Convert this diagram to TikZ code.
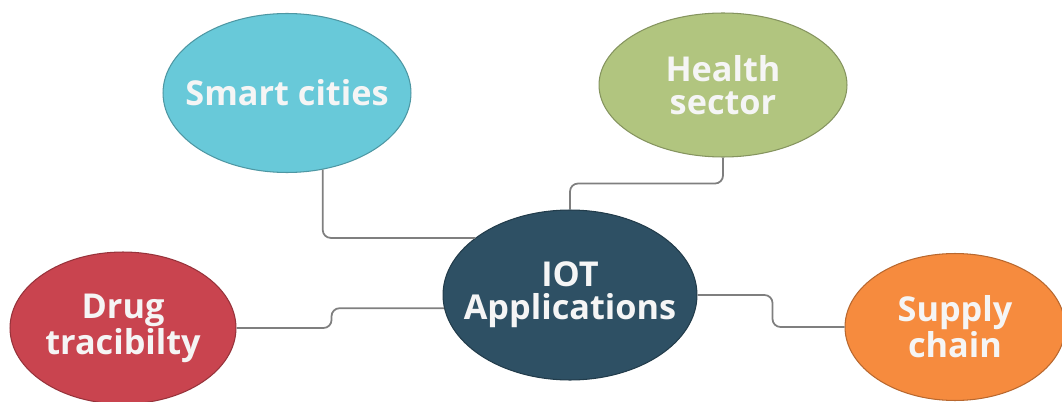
\documentclass[tikz,border=0pt]{standalone}
\usepackage{fontspec}
\setmainfont{Open Sans}
\usetikzlibrary{positioning,shapes.geometric}

\definecolor{cityblue}{HTML}{68C9D9}
\definecolor{healthgreen}{HTML}{B1C57F}
\definecolor{drugred}{HTML}{C9444F}
\definecolor{iotblue}{HTML}{2E5064}
\definecolor{supplyorange}{HTML}{F68B3E}
\definecolor{linkgray}{HTML}{7F7F7F}

\begin{document}
\begin{tikzpicture}[x=0.02cm,y=0.02cm,
  bubble/.style={ellipse,draw,line width=0.6pt,inner sep=0pt,
    label={[bubbletext]center:#1}},
  bubbletext/.style={text=white!96!black,align=center,font=\bfseries\fontsize{19.5}{19}\selectfont},
  link/.style={draw=linkgray,line width=1pt,rounded corners=0.16cm}]

\useasboundingbox (0,0) rectangle (1062,-402);

\node[bubble={Smart cities},fill=cityblue,draw=cityblue!75!black,minimum width=4.96cm,minimum height=3.18cm] (city) at (287,-93) {};
\node[bubble={Health\\sector},fill=healthgreen,draw=healthgreen!75!black,minimum width=4.96cm,minimum height=2.88cm] (health) at (723,-85) {};
\node[bubble={IOT\\Applications},fill=iotblue,draw=iotblue!75!black,minimum width=5.08cm,minimum height=3.4cm] (iot) at (570,-295) {};
\node[bubble={Drug\\tracibilty},fill=drugred,draw=drugred!75!black,minimum width=4.52cm,minimum height=3.04cm] (drug) at (123,-328) {};
\node[bubble={Supply\\chain},fill=supplyorange,draw=supplyorange!75!black,minimum width=4.4cm,minimum height=2.94cm] (supply) at (955,-327) {};

\draw[link] (city.-65) |- (iot.149);
\draw[link] (health.south) -- ++(0,-26) -| (iot.north);
\draw[link] (drug.east) -- ++(95,0) |- (iot.186);
\draw[link] (iot.east) -- ++(75,0) |- (supply.west);

\end{tikzpicture}
\end{document}
